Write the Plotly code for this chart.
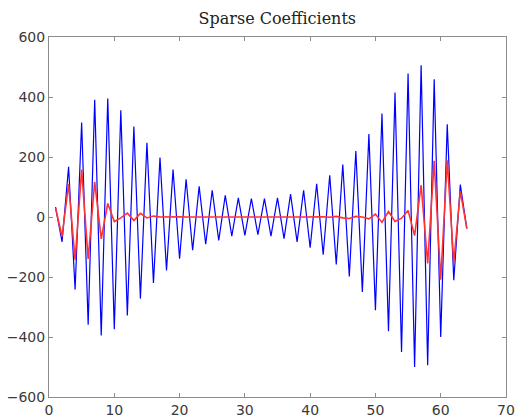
import plotly.graph_objects as go

x_vals = list(range(1, 65))

blue_vals = [33, -83, 167, -242, 315, -359, 391, -395, 395, -374,
             356, -328, 302, -272, 247, -220, 198, -178, 158, -139,
             126, -111, 102, -91, 89, -78, 72, -64, 64, -61,
             61, -59, 61, -64, 64, -72, 76, -83, 89, -102,
             111, -126, 139, -158, 175, -198, 220, -250, 277, -311,
             345, -381, 415, -450, 478, -500, 506, -494, 459, -400,
             309, -211, 108, -39]

red_vals = [30, -65, 110, -143, 158, -140, 117, -73, 45, -15,
            -3, 13, -12, 12, -3, 3, 0, 1, 0, 1,
            0, 1, 0, 0, 1, 0, 0, 1, 0, 0,
            1, 0, 0, 1, 0, 0, 1, 0, 0, 1,
            0, 1, -1, 2, -3, -5, 2, 0, -6, 10,
            -18, 18, -15, -4, 22, -62, 106, -155, 187, -209,
            189, -152, 86, -39]

x_ticks = [0, 10, 20, 30, 40, 50, 60, 70]
y_ticks = [-600, -400, -200, 0, 200, 400, 600]

fig = go.Figure()
fig.add_trace(go.Scatter(x=x_vals, y=blue_vals, mode="lines",
                         line=dict(color="#0000ff", width=1.2)))
fig.add_trace(go.Scatter(x=x_vals, y=red_vals, mode="lines",
                         line=dict(color="#ff3333", width=1.6)))

axis_common = dict(showgrid=False, zeroline=False, showline=True, mirror="ticks",
                   linecolor="#8c8c8c", linewidth=1, ticks="inside", ticklen=4,
                   automargin=False,
                   tickcolor="#8c8c8c", tickfont=dict(family="DejaVu Sans", size=14, color="#3a3a3a"))

fig.update_layout(
    width=515, height=419,
    margin=dict(l=49, r=9, t=37, b=22),
    plot_bgcolor="white", paper_bgcolor="white",
    showlegend=False,
    title=dict(text="Sparse Coefficients", x=0.5385, xanchor="center", y=0.957, yanchor="middle",
               font=dict(family="DejaVu Serif", size=16, color="#222222")),
    xaxis=dict(range=[0, 70], tickvals=x_ticks, **axis_common),
    yaxis=dict(range=[-600, 600], tickvals=y_ticks, **axis_common),
)

fig.write_html("out.html")
